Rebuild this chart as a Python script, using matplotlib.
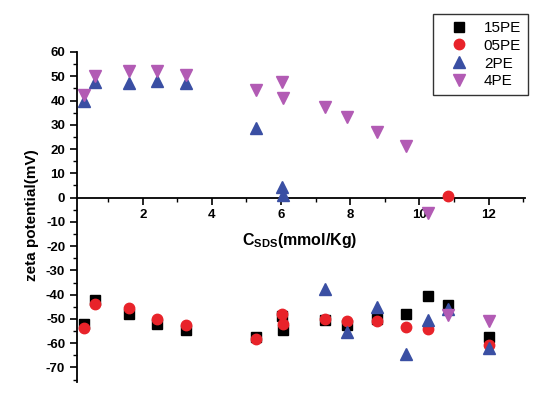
import matplotlib
matplotlib.use("Agg")
import matplotlib.pyplot as plt
from matplotlib.ticker import MultipleLocator

plt.rcParams['font.family'] = ['Liberation Sans', 'DejaVu Sans']
plt.rcParams['axes.unicode_minus'] = False

# concentrations of SDS (mmol/Kg)
x = [0.29, 0.63, 1.59, 2.42, 3.26, 5.28, 6.03, 6.07, 7.27, 7.9, 8.77, 9.6, 10.25, 10.82, 12.0]

pe15 = [-51.9, -42.4, -47.8, -52.3, -54.7, -57.6, -49.0, -54.7, -50.6, -52.7, -50.2, -47.8, -40.7, -44.4, -57.6]
pe05 = [-53.9, -44.0, -45.7, -50.2, -52.7, -58.4, -47.8, -51.9, -50.2, -51.0, -51.0, -53.5, -54.0, 0.5, -60.9]
pe2 = [40.0, 47.7, 47.3, 48.1, 47.3, 28.8, 4.5, 1.0, -37.5, -55.5, -45.0, -64.6, -50.3, -45.8, -62.2]
pe4 = [42.4, 50.2, 52.3, 52.0, 50.6, 44.4, 47.8, 41.0, 37.5, 33.3, 27.2, 21.4, -6.5, -48.6, -51.0]

labels = ['15PE', '05PE', '2PE', '4PE']

fig = plt.figure(figsize=(5.59, 3.96), dpi=100)
ax = fig.add_axes([0.1377, 0.0354, 0.8014, 0.8333])

ax.plot(x, pe15, 's', color='black', markersize=6.5, label=labels[0], zorder=3)
ax.plot(x, pe05, 'o', color='#e8232a', markersize=7.5, label=labels[1], zorder=4)
ax.plot(x, pe2, '^', color='#3a4fa3', markersize=8.5, label=labels[2], zorder=5)
ax.plot(x, pe4, 'v', color='#b25bb4', markersize=8.5, label=labels[3], zorder=6)

ax.set_xlim(0.1, 13.05)
ax.set_ylim(-76, 60)

ax.spines['top'].set_visible(False)
ax.spines['right'].set_visible(False)
ax.spines['bottom'].set_position(('data', 0))
ax.spines['bottom'].set_linewidth(1.3)
ax.spines['left'].set_linewidth(1.3)

ax.xaxis.set_major_locator(MultipleLocator(2))
ax.xaxis.set_minor_locator(MultipleLocator(1))
ax.yaxis.set_major_locator(MultipleLocator(10))
ax.yaxis.set_minor_locator(MultipleLocator(5))
ax.set_xticks([2, 4, 6, 8, 10, 12])
ax.tick_params(which='major', direction='out', length=5, width=1.2, labelsize=9.5)
ax.tick_params(which='minor', direction='out', length=3, width=1.0)
for t in ax.get_xticklabels() + ax.get_yticklabels():
    t.set_fontweight('bold')

fig.text(0.537, 1 - 241 / 396, r'C$_{\mathregular{SDS}}$(mmol/Kg)', ha='center', va='center',
         fontsize=11.5, fontweight='bold')
fig.text(0.058, 1 - 215 / 396, 'zeta potential(mV)', rotation=90, ha='center', va='center',
         fontsize=11, fontweight='bold')

leg = fig.legend(loc='upper right', bbox_to_anchor=(528 / 559, 1 - 14 / 396),
                 borderaxespad=0, fontsize=11, frameon=True, fancybox=False,
                 handletextpad=0.3, borderpad=0.45, labelspacing=0.25, handlelength=2.6)
leg.get_frame().set_edgecolor('black')
leg.get_frame().set_linewidth(1.0)

fig.savefig('out.png', dpi=100)
